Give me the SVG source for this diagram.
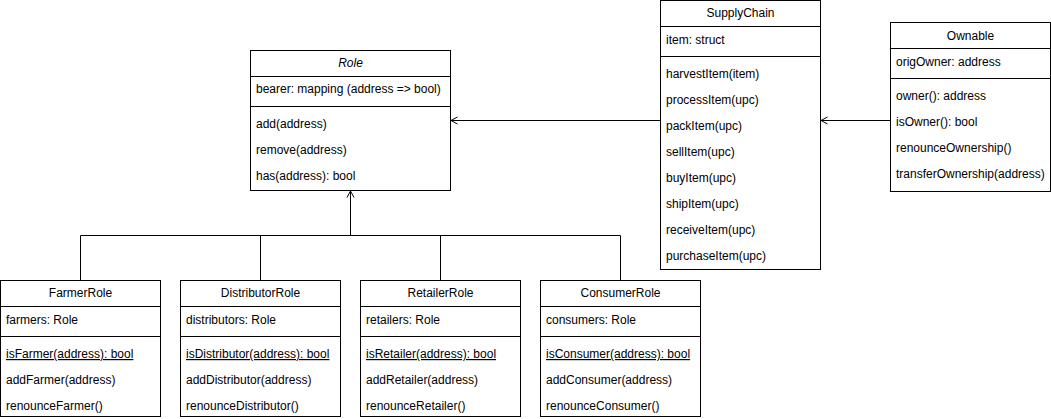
<svg xmlns="http://www.w3.org/2000/svg" width="1051" height="419" viewBox="0 0 1051 419">
<style>
.box{fill:#fff;stroke:#000;stroke-width:1}
.sep{stroke:#000;stroke-width:1;fill:none}
.t{font-family:"Liberation Sans",Arial,Helvetica,sans-serif;font-size:12px;fill:#000}
.h{text-anchor:middle}
.i{font-style:italic}
.u{text-decoration:underline}
.c{stroke:#000;stroke-width:1;fill:none}
</style>
<rect x="0" y="0" width="1051" height="419" fill="#fff"/>
<g id="connectors">
<path class="c" d="M350.5 191 V235.5 M80.5 235.5 H620.5 M80.5 235.5 V280.5 M260.5 235.5 V280.5 M440.5 235.5 V280.5 M620.5 235.5 V280.5"/>
<polyline class="c" points="347,197.5 350.5,191 354,197.5"/>
<path class="c" d="M660.5 120.5 H451"/>
<polyline class="c" points="457.5,117 451,120.5 457.5,124"/>
<path class="c" d="M890.5 120.5 H821"/>
<polyline class="c" points="827.5,117 821,120.5 827.5,124"/>
</g>
<g id="Role">
<rect class="box" x="250.5" y="50.5" width="200" height="140"/>
<path class="sep" d="M250.5 76.5 H450.5 M250.5 106.5 H450.5"/>
<text class="t h i" x="350.5" y="67">Role</text>
<text class="t" x="256" y="93">bearer: mapping (address =&gt; bool)</text>
<text class="t" x="256" y="128">add(address)</text>
<text class="t" x="256" y="154">remove(address)</text>
<text class="t" x="256" y="180">has(address): bool</text>
</g>
<g id="SupplyChain">
<rect class="box" x="660.5" y="0.5" width="160" height="269"/>
<path class="sep" d="M660.5 26.5 H820.5 M660.5 56.5 H820.5"/>
<text class="t h" x="740.5" y="17">SupplyChain</text>
<text class="t" x="666" y="44">item: struct</text>
<text class="t" x="666" y="78">harvestItem(item)</text>
<text class="t" x="666" y="104">processItem(upc)</text>
<text class="t" x="666" y="130">packItem(upc)</text>
<text class="t" x="666" y="156">sellItem(upc)</text>
<text class="t" x="666" y="182">buyItem(upc)</text>
<text class="t" x="666" y="208">shipItem(upc)</text>
<text class="t" x="666" y="234">receiveItem(upc)</text>
<text class="t" x="666" y="260">purchaseItem(upc)</text>
</g>
<g id="Ownable">
<rect class="box" x="890.5" y="22.5" width="160" height="169"/>
<path class="sep" d="M890.5 48.5 H1050.5 M890.5 78.5 H1050.5"/>
<text class="t h" x="970.5" y="40">Ownable</text>
<text class="t" x="896" y="66">origOwner: address</text>
<text class="t" x="896" y="100">owner(): address</text>
<text class="t" x="896" y="126">isOwner(): bool</text>
<text class="t" x="896" y="152">renounceOwnership()</text>
<text class="t" x="896" y="178">transferOwnership(address)</text>
</g>
<g id="FarmerRole">
<rect class="box" x="0.5" y="280.5" width="160" height="136"/>
<path class="sep" d="M0.5 306.5 H160.5 M0.5 336.5 H160.5"/>
<text class="t h" x="80.5" y="297">FarmerRole</text>
<text class="t" x="6" y="324">farmers: Role</text>
<text class="t u" x="6" y="358">isFarmer(address): bool</text>
<text class="t" x="6" y="384">addFarmer(address)</text>
<text class="t" x="6" y="410">renounceFarmer()</text>
</g>
<g id="DistributorRole">
<rect class="box" x="180.5" y="280.5" width="160" height="136"/>
<path class="sep" d="M180.5 306.5 H340.5 M180.5 336.5 H340.5"/>
<text class="t h" x="260.5" y="297">DistributorRole</text>
<text class="t" x="186" y="324">distributors: Role</text>
<text class="t u" x="186" y="358">isDistributor(address): bool</text>
<text class="t" x="186" y="384">addDistributor(address)</text>
<text class="t" x="186" y="410">renounceDistributor()</text>
</g>
<g id="RetailerRole">
<rect class="box" x="360.5" y="280.5" width="160" height="136"/>
<path class="sep" d="M360.5 306.5 H520.5 M360.5 336.5 H520.5"/>
<text class="t h" x="440.5" y="297">RetailerRole</text>
<text class="t" x="366" y="324">retailers: Role</text>
<text class="t u" x="366" y="358">isRetailer(address): bool</text>
<text class="t" x="366" y="384">addRetailer(address)</text>
<text class="t" x="366" y="410">renounceRetailer()</text>
</g>
<g id="ConsumerRole">
<rect class="box" x="540.5" y="280.5" width="160" height="136"/>
<path class="sep" d="M540.5 306.5 H700.5 M540.5 336.5 H700.5"/>
<text class="t h" x="620.5" y="297">ConsumerRole</text>
<text class="t" x="546" y="324">consumers: Role</text>
<text class="t u" x="546" y="358">isConsumer(address): bool</text>
<text class="t" x="546" y="384">addConsumer(address)</text>
<text class="t" x="546" y="410">renounceConsumer()</text>
</g>
</svg>
